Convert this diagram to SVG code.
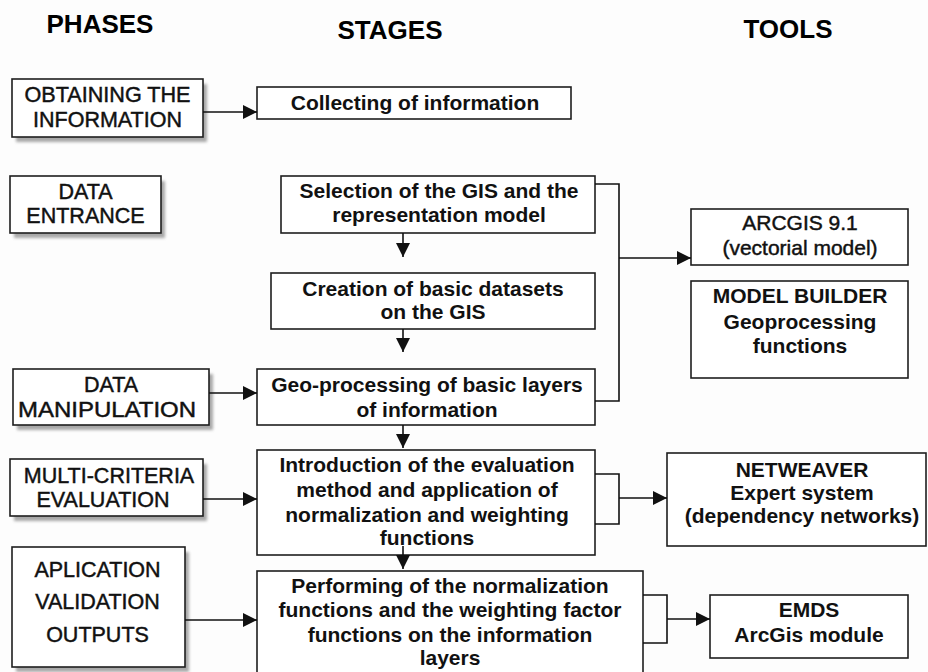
<svg xmlns="http://www.w3.org/2000/svg" width="928" height="672" viewBox="0 0 928 672">
<defs>
<style>
.bg{fill:#fdfdfd}
.box{fill:#ffffff;stroke:#1e1e1e;stroke-width:1.6}
.shd{fill:#a8a8a8;filter:url(#blur)}
.hdr{font-family:"Liberation Sans",Arial,sans-serif;font-size:26px;font-weight:bold;fill:#000;text-anchor:middle}
.ph{font-family:"Liberation Sans",Arial,sans-serif;font-size:21.5px;fill:#111;stroke:#111;stroke-width:0.45;text-anchor:middle}
.st{font-family:"Liberation Sans",Arial,sans-serif;font-size:21px;font-weight:bold;fill:#111;text-anchor:middle}
.tl{font-family:"Liberation Sans",Arial,sans-serif;font-size:21px;font-weight:bold;fill:#111;text-anchor:middle}
.tlr{font-family:"Liberation Sans",Arial,sans-serif;font-size:21px;fill:#111;stroke:#111;stroke-width:0.45;text-anchor:middle}
.ln{fill:none;stroke:#111;stroke-width:1.6}
.ar{fill:none;stroke:#111;stroke-width:1.6;marker-end:url(#ah)}
</style>
<filter id="blur" x="-10%" y="-10%" width="120%" height="120%"><feGaussianBlur stdDeviation="1.5"/></filter>
<marker id="ah" markerUnits="userSpaceOnUse" markerWidth="15" markerHeight="14" refX="14" refY="7" orient="auto">
<path d="M0,0 L14,7 L0,14 z" fill="#111"/>
</marker>
</defs>
<rect class="bg" x="0" y="0" width="928" height="672"/>

<g id="headers">
<text class="hdr" x="100" y="33">PHASES</text>
<text class="hdr" x="390" y="39">STAGES</text>
<text class="hdr" x="788" y="38">TOOLS</text>
</g>

<!-- Phases -->
<g id="phase-obtaining">
<rect class="shd" x="16" y="84" width="191" height="58"/>
<rect class="box" x="12" y="79" width="191" height="58"/>
<text class="ph"><tspan x="107.5" y="102" textLength="166" lengthAdjust="spacingAndGlyphs">OBTAINING THE</tspan><tspan x="107.5" y="127">INFORMATION</tspan></text>
</g>
<g id="phase-data-entrance">
<rect class="shd" x="14" y="181" width="151" height="57"/>
<rect class="box" x="10" y="176" width="151" height="57"/>
<text class="ph"><tspan x="85.5" y="199">DATA</tspan><tspan x="85.5" y="223">ENTRANCE</tspan></text>
</g>
<g id="phase-data-manipulation">
<rect class="shd" x="17" y="374" width="196" height="56"/>
<rect class="box" x="13" y="369" width="196" height="56"/>
<text class="ph"><tspan x="111" y="392">DATA</tspan><tspan x="107" y="417" textLength="178" lengthAdjust="spacingAndGlyphs">MANIPULATION</tspan></text>
</g>
<g id="phase-multicriteria">
<rect class="shd" x="14" y="464" width="193" height="57"/>
<rect class="box" x="10" y="459" width="193" height="57"/>
<text class="ph"><tspan x="109" y="483">MULTI-CRITERIA</tspan><tspan x="103" y="507">EVALUATION</tspan></text>
</g>
<g id="phase-application">
<rect class="shd" x="16" y="552" width="173" height="120"/>
<rect class="box" x="12" y="547" width="173" height="120"/>
<text class="ph"><tspan x="97.5" y="577">APLICATION</tspan><tspan x="97.5" y="609">VALIDATION</tspan><tspan x="97.5" y="642">OUTPUTS</tspan></text>
</g>

<!-- Stages -->
<g id="stage-collecting">
<rect class="box" x="257" y="87" width="314" height="32"/>
<text class="st" x="415" y="110">Collecting of information</text>
</g>
<g id="stage-selection">
<rect class="box" x="281" y="176" width="314" height="57"/>
<text class="st"><tspan x="439" y="198">Selection of the GIS and the</tspan><tspan x="439" y="222">representation model</tspan></text>
</g>
<g id="stage-creation">
<rect class="box" x="271" y="273" width="324" height="56"/>
<text class="st"><tspan x="433" y="296">Creation of basic datasets</tspan><tspan x="433" y="319">on the GIS</tspan></text>
</g>
<g id="stage-geoprocessing">
<rect class="box" x="257" y="369" width="338" height="56"/>
<text class="st"><tspan x="427" y="392">Geo-processing of basic layers</tspan><tspan x="427" y="417">of information</tspan></text>
</g>
<g id="stage-introduction">
<rect class="box" x="257" y="450" width="338" height="105"/>
<text class="st"><tspan x="427" y="472">Introduction of the evaluation</tspan><tspan x="427" y="497">method and application of</tspan><tspan x="427" y="522">normalization and weighting</tspan><tspan x="427" y="545">functions</tspan></text>
</g>
<g id="stage-performing">
<rect class="box" x="257" y="571" width="386" height="104"/>
<text class="st"><tspan x="450" y="593">Performing of the normalization</tspan><tspan x="450" y="617">functions and the weighting factor</tspan><tspan x="450" y="642">functions on the information</tspan><tspan x="450" y="665">layers</tspan></text>
</g>

<!-- Tools -->
<g id="tool-arcgis">
<rect class="box" x="691" y="209" width="217" height="56"/>
<text class="tlr"><tspan x="800" y="230">ARCGIS 9.1</tspan><tspan x="800" y="255">(vectorial model)</tspan></text>
</g>
<g id="tool-modelbuilder">
<rect class="box" x="691" y="281" width="217" height="97"/>
<text class="tl"><tspan x="800" y="303">MODEL BUILDER</tspan><tspan x="800" y="329">Geoprocessing</tspan><tspan x="800" y="353">functions</tspan></text>
</g>
<g id="tool-netweaver">
<rect class="box" x="667" y="453" width="259" height="93"/>
<text class="tl"><tspan x="802" y="477">NETWEAVER</tspan><tspan x="802" y="500">Expert system</tspan><tspan x="802" y="523">(dependency networks)</tspan></text>
</g>
<g id="tool-emds">
<rect class="box" x="710" y="595" width="198" height="63"/>
<text class="tl"><tspan x="809" y="617">EMDS</tspan><tspan x="809" y="642">ArcGis module</tspan></text>
</g>

<!-- Connectors -->
<g id="connectors">
<line class="ar" x1="203" y1="112" x2="257" y2="112"/>
<line class="ar" x1="209" y1="393" x2="257" y2="393"/>
<line class="ar" x1="203" y1="499" x2="257" y2="499"/>
<line class="ar" x1="185" y1="620" x2="257" y2="620"/>

<line class="ar" x1="403" y1="233" x2="403" y2="257"/>
<line class="ar" x1="403" y1="329" x2="403" y2="352"/>
<line class="ar" x1="403" y1="425" x2="403" y2="448"/>
<line class="ar" x1="403" y1="546" x2="403" y2="569"/>

<polyline class="ln" points="595,184 619,184 619,401 595,401"/>
<line class="ar" x1="619" y1="258" x2="691" y2="258"/>

<polyline class="ln" points="595,474 619,474 619,524 595,524"/>
<line class="ar" x1="619" y1="498" x2="667" y2="498"/>

<polyline class="ln" points="643,595 667,595 667,643 643,643"/>
<line class="ar" x1="667" y1="619" x2="710" y2="619"/>
</g>
</svg>
